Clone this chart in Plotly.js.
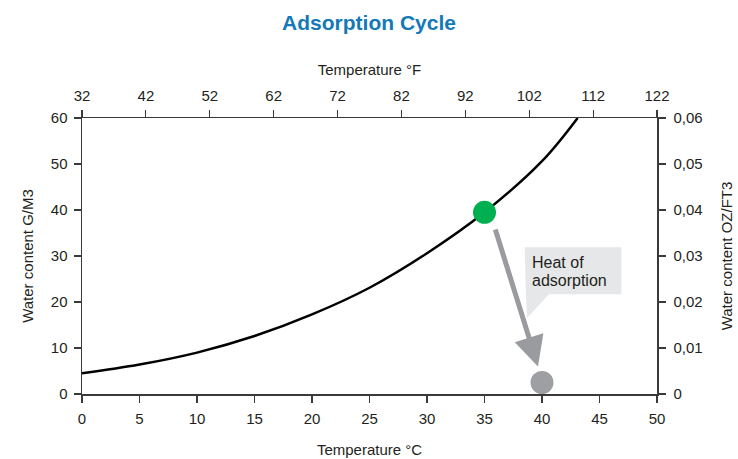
<!DOCTYPE html>
<html>
<head>
<meta charset="utf-8">
<script src="https://cdn.plot.ly/plotly-3.0.1.min.js"></script>
<style>html,body{margin:0;padding:0;background:#fff;}#chart{width:738px;height:459px;}</style>
</head>
<body>
<div id="chart"></div>
<script>
// Saturation curve (°C vs g/m3)
const tempC = [0, 5, 10, 15, 20, 25, 30, 35, 40, 43.1];
const waterGM3 = [4.5, 6.4, 9.0, 12.6, 17.3, 23.1, 30.6, 39.5, 50.6, 60];
// Points of the cycle
const startPoint = {x: [35], y: [39.5]};
const endPoint = {x: [40], y: [2.5]};
// Axis ticks
const fTicks = [32, 42, 52, 62, 72, 82, 92, 102, 112, 122];
const cTicks = [0, 5, 10, 15, 20, 25, 30, 35, 40, 45, 50];
const gTicks = [0, 10, 20, 30, 40, 50, 60];
const ozTicks = [0, 0.01, 0.02, 0.03, 0.04, 0.05, 0.06];

const font = 'Liberation Sans, Arial, sans-serif';
const axisColor = '#3a3a3a';
const txtColor = '#231f20';
const tickFont = {family: font, size: 15, color: txtColor};
const titleFont = {family: font, size: 15, color: txtColor};

const traces = [
  {x: tempC, y: waterGM3, mode: 'lines', line: {color: '#000', width: 2.5, shape: 'spline', smoothing: 1}, hoverinfo: 'skip'},
  {x: startPoint.x, y: startPoint.y, mode: 'markers', marker: {color: '#00b050', size: 23}},
  {x: endPoint.x, y: endPoint.y, mode: 'markers', marker: {color: '#9d9fa2', size: 23}},
  {x: [32, 122], y: [0, 0.06], xaxis: 'x2', yaxis: 'y2', mode: 'markers', marker: {opacity: 0}, hoverinfo: 'skip'}
];

const axBase = {
  showgrid: false, zeroline: false, showline: true, linecolor: axisColor, linewidth: 1.5,
  ticks: 'outside', ticklen: 7, tickwidth: 1.2, tickcolor: axisColor, tickfont: tickFont,
  ticklabelstandoff: 3
};

const layout = {
  width: 738, height: 459,
  margin: {l: 82, r: 81, t: 118, b: 65},
  paper_bgcolor: '#fff', plot_bgcolor: '#fff',
  showlegend: false,
  separators: ',.',
  font: {family: font},
  title: {text: '<b>Adsorption Cycle</b>', font: {family: font, size: 21, color: '#1479b8'},
          x: 0.5, xanchor: 'center', y: 0.950, yanchor: 'middle'},
  xaxis: Object.assign({}, axBase, {range: [0, 50], tickvals: cTicks, ticktext: cTicks.map(String),
    title: {text: 'Temperature °C', font: titleFont, standoff: 19}}),
  yaxis: Object.assign({}, axBase, {range: [0, 60], tickvals: gTicks,
    title: {text: 'Water content G/M3', font: titleFont, standoff: 13}}),
  xaxis2: Object.assign({}, axBase, {range: [32, 122], tickvals: fTicks, overlaying: 'x', side: 'top', anchor: 'y',
    title: {text: 'Temperature °F', font: titleFont, standoff: 7}}),
  yaxis2: Object.assign({}, axBase, {range: [0, 0.06], tickvals: ozTicks, tickformat: '.2~f', overlaying: 'y', side: 'right', anchor: 'x',
    ticklabelstandoff: 5,
    title: {text: 'Water content OZ/FT3', font: titleFont, standoff: 20}}),
  shapes: [
    {type: 'path', xref: 'x', yref: 'y', fillcolor: '#e6e7e8', line: {width: 0}, layer: 'below',
     path: 'M38.5,31.9 L46.9,31.9 L46.9,21.7 L40.6,21.7 L38.7,16.5 L38.6,21.7 Z'}
  ],
  annotations: [
    {x: 39.65, y: 6.0, ax: 35.9, ay: 36.1, xref: 'x', yref: 'y', axref: 'x', ayref: 'y',
     showarrow: true, arrowhead: 2, arrowsize: 1.2, arrowwidth: 5, arrowcolor: '#9a9b9e', text: ''},
    {x: 38.95, y: 28.5, xref: 'x', yref: 'y', xanchor: 'left', yanchor: 'middle', align: 'left', showarrow: false,
     text: 'Heat of', font: {family: font, size: 16, color: txtColor}},
    {x: 38.95, y: 24.7, xref: 'x', yref: 'y', xanchor: 'left', yanchor: 'middle', align: 'left', showarrow: false,
     text: 'adsorption', font: {family: font, size: 16, color: txtColor}}
  ]
};

Plotly.newPlot('chart', traces, layout, {displayModeBar: false, staticPlot: true});
</script>
</body>
</html>
